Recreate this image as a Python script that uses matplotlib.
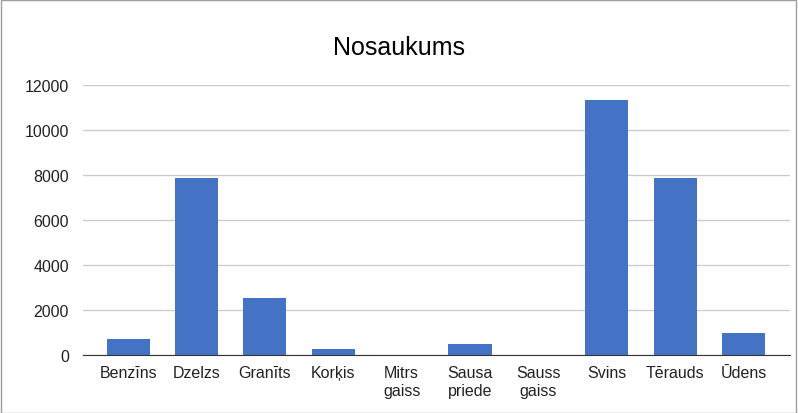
import matplotlib.pyplot as plt
import numpy as np

plt.rcParams['font.family'] = ['Liberation Sans', 'DejaVu Sans']

materials = ['Benzīns', 'Dzelzs', 'Granīts', 'Korķis', 'Mitrs\ngaiss',
             'Sausa\npriede', 'Sauss\ngaiss', 'Svins', 'Tērauds', 'Ūdens']
density = [710, 7870, 2550, 250, 1.2, 480, 1.29, 11340, 7850, 1000]

fig = plt.figure(figsize=(7.98, 4.14), dpi=100)
ax = fig.add_axes([0.104, 0.140, 0.886, 0.652])

x = np.arange(len(materials))
ax.bar(x, density, width=0.63, color='#4472C4', zorder=3)

ax.set_xlim(-0.66, len(materials) - 0.32)
ax.set_ylim(0, 12000)
ax.set_yticks(np.arange(0, 12001, 2000))
ax.set_xticks(x)
ax.set_xticklabels(materials, fontsize=11.5, color='#222222', linespacing=1.3)
ax.tick_params(axis='y', labelsize=11.5, labelcolor='#222222', length=0, pad=10)
ax.tick_params(axis='x', length=0, pad=7)
ax.grid(axis='y', color='#cccccc', linewidth=1, zorder=0)
for s in ['top', 'right', 'left']:
    ax.spines[s].set_visible(False)
ax.spines['bottom'].set_color('#333333')
ax.spines['bottom'].set_zorder(4)

fig.text(0.5, 0.885, 'Nosaukums', ha='center', va='center', fontsize=18, color='#000000')

border = plt.Rectangle((0.001, 0.001), 0.997, 0.997, transform=fig.transFigure,
                       fill=False, edgecolor='#9e9e9e', linewidth=1)
fig.patches.append(border)

fig.savefig('out.png', dpi=100)
